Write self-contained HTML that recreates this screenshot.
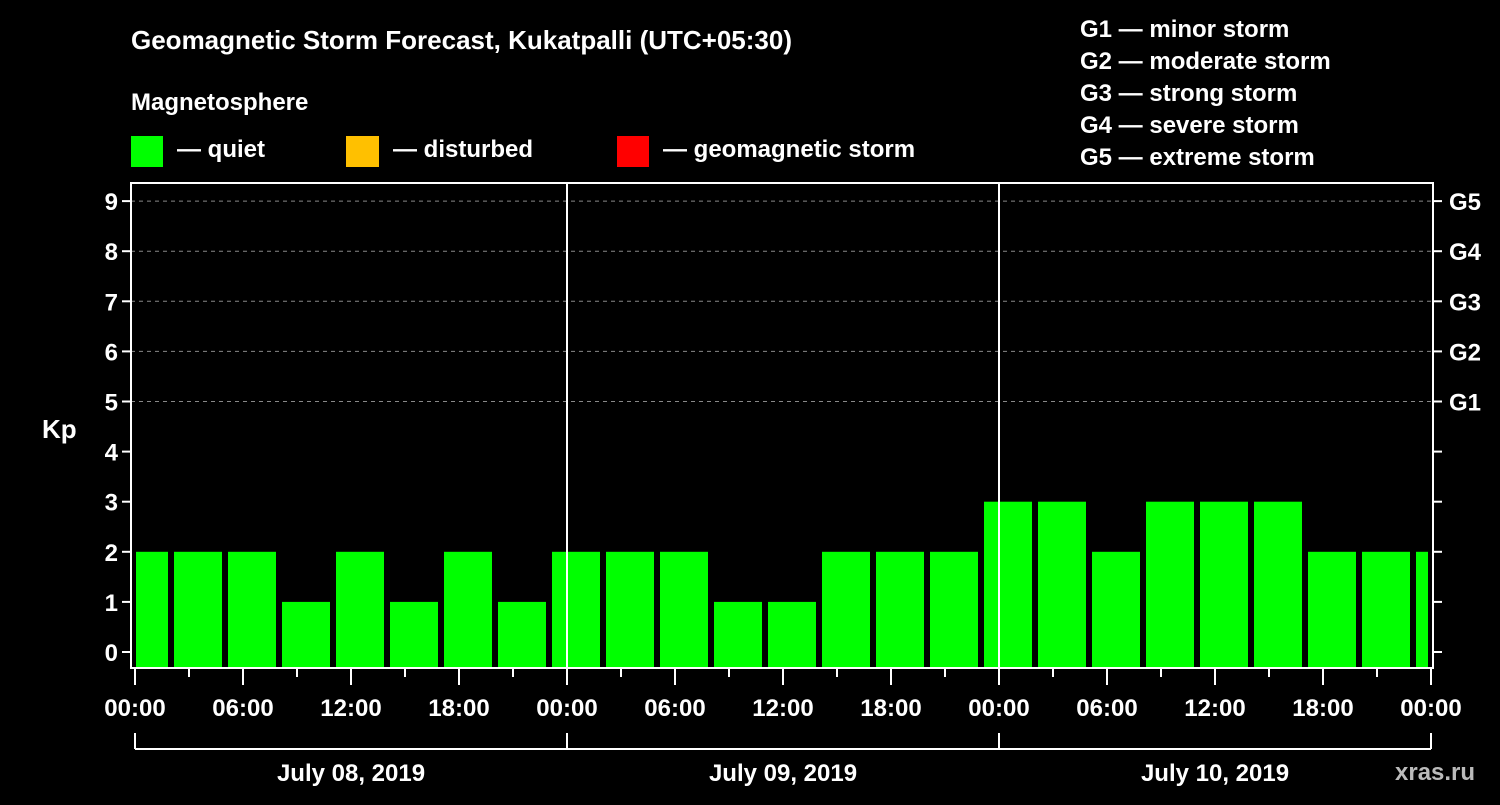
<!DOCTYPE html>
<html><head><meta charset="utf-8"><style>
body{margin:0;background:#000;width:1500px;height:800px;overflow:hidden}
text{font-family:"Liberation Sans",sans-serif;font-weight:bold;fill:#fff}
</style></head><body>
<svg id="chart" width="1500" height="800" xmlns="http://www.w3.org/2000/svg">
<rect width="1500" height="800" fill="#000"/>
<text x="131" y="49" font-size="26">Geomagnetic Storm Forecast, Kukatpalli (UTC+05:30)</text>
<text x="131" y="110" font-size="24">Magnetosphere</text>
<g><rect x="131" y="136" width="32" height="31" fill="#00ff00"/><text x="177" y="157" font-size="24">— quiet</text></g>
<g><rect x="346" y="136" width="33" height="31" fill="#ffc000"/><text x="393" y="157" font-size="24">— disturbed</text></g>
<g><rect x="617" y="136" width="32" height="31" fill="#ff0000"/><text x="663" y="157" font-size="24">— geomagnetic storm</text></g>
<g font-size="24">
<text x="1080" y="37">G1 — minor storm</text>
<text x="1080" y="69">G2 — moderate storm</text>
<text x="1080" y="101">G3 — strong storm</text>
<text x="1080" y="133">G4 — severe storm</text>
<text x="1080" y="165">G5 — extreme storm</text>
</g>
<text x="42" y="438" font-size="26">Kp</text>
<g id="grid"></g><g id="bars"></g><g id="axes"></g>
<text x="1395" y="780" font-size="24" fill="#bbb" style="fill:#bbb">xras.ru</text>
</svg>
<script>
const kpValues=[2,2,2,1,2,1,2,1,2,2,2,1,1,2,2,2,3,3,2,3,3,3,2,2,2];
const barOffsetHours=[0.5];
const dayLabels=["July 08, 2019","July 09, 2019","July 10, 2019"];
const hourLabels=["00:00","06:00","12:00","18:00"];
const gLabels=["G1","G2","G3","G4","G5"];
const NS="http://www.w3.org/2000/svg";
const X0=135,PXH=18,Y0=652,PXK=50.1,LEFT=131,RIGHT=1433,TOP=183,BOT=668;
const xs=h=>X0+h*PXH, ys=k=>Y0-k*PXK;
function el(tag,attrs,parent,txt){const e=document.createElementNS(NS,tag);for(const k in attrs)e.setAttribute(k,attrs[k]);if(txt!==undefined)e.textContent=txt;document.getElementById(parent).appendChild(e);return e;}
// grid
for(let k=5;k<=9;k++){
 const l=el('line',{x1:LEFT,x2:RIGHT,y1:ys(k),y2:ys(k),stroke:'#888','stroke-dasharray':'4,4','stroke-width':1},'grid');
 
 
}
// bars
kpValues.forEach((v,i)=>{
 const c=xs(barOffsetHours[0]+3*i);
 let x1=Math.max(c-24,X0+1),x2=Math.min(c+24,RIGHT-5);
 const r=el('rect',{x:x1,y:ys(v),width:x2-x1,height:BOT-ys(v),fill:v>=5?'#ff0000':(v>=4?'#ffc000':'#00ff00')},'bars');
 
 
});
// frame
const f=el('rect',{x:LEFT,y:TOP,width:RIGHT-LEFT,height:BOT-TOP,fill:'none',stroke:'#fff','stroke-width':2},'axes');


for(let d=1;d<3;d++){
 const s=el('line',{x1:xs(24*d),x2:xs(24*d),y1:TOP,y2:BOT,stroke:'#fff','stroke-width':2},'axes');
 
 
}
for(let k=0;k<=9;k++){
 el('line',{x1:LEFT-9,x2:LEFT,y1:ys(k),y2:ys(k),stroke:'#fff','stroke-width':2},'axes');
 el('line',{x1:RIGHT,x2:RIGHT+9,y1:ys(k),y2:ys(k),stroke:'#fff','stroke-width':2},'axes');
 const t=el('text',{x:LEFT-13,y:ys(k)+9,'font-size':24,'text-anchor':'end'},'axes',String(k));
 
 
 if(k>=5){
  const g=el('text',{x:1449,y:ys(k)+9,'font-size':24},'axes',gLabels[k-5]);
  
  
 }
}
for(let h=0;h<=72;h+=3){
 const major=h%6===0;
 el('line',{x1:xs(h),x2:xs(h),y1:BOT,y2:BOT+(major?17:9),stroke:'#fff','stroke-width':2},'axes');
 if(major){
  const t=el('text',{x:xs(h),y:716,'font-size':24,'text-anchor':'middle'},'axes',hourLabels[(h/6)%4]);
  
  
 }
}
const b=el('line',{x1:xs(0),x2:xs(72),y1:749,y2:749,stroke:'#fff','stroke-width':2},'axes');


for(let d=0;d<=3;d++) el('line',{x1:xs(24*d),x2:xs(24*d),y1:733,y2:749,stroke:'#fff','stroke-width':2},'axes');
dayLabels.forEach((s,d)=>{
 const t=el('text',{x:xs(24*d+12),y:781,'font-size':24,'text-anchor':'middle'},'axes',s);
 
 
});
</script>
</body></html>
